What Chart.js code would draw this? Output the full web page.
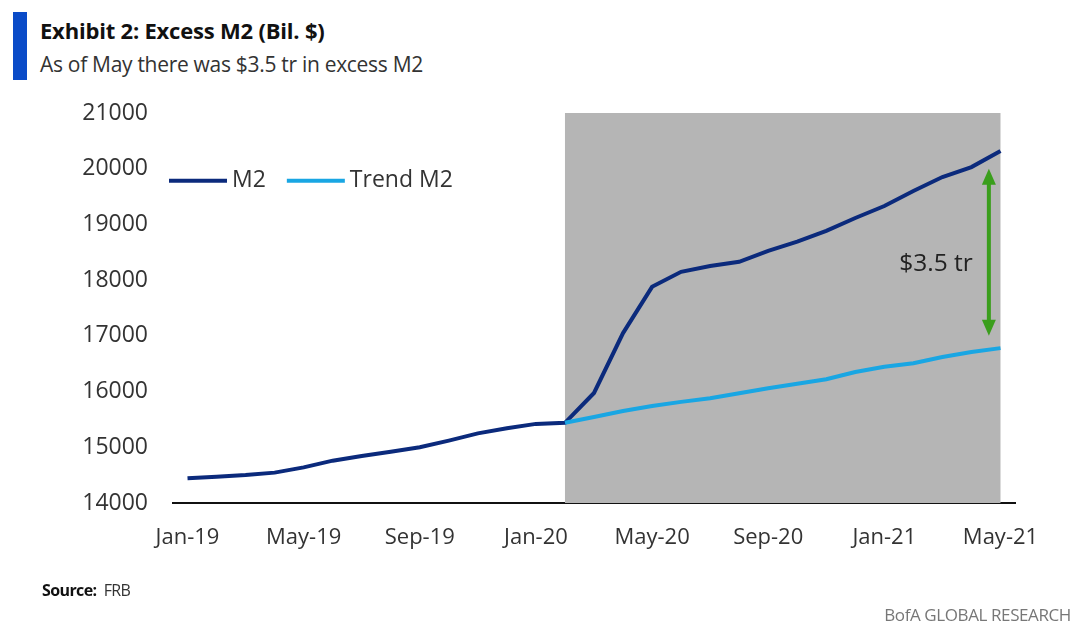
<!DOCTYPE html>
<html>
<head>
<meta charset="utf-8">
<script src="https://cdn.jsdelivr.net/npm/chart.js@4.4.1/dist/chart.umd.min.js"></script>
<style>
  body { margin: 0; background: #fff; width: 1091px; height: 637px; overflow: hidden; font-family: 'Open Sans', sans-serif; }
  .bar { position: absolute; left: 13px; top: 12px; width: 14px; height: 68px; background: #0a4bc8; }
  .title { position: absolute; left: 40px; top: 15px; font-size: 22px; font-weight: 700; color: #111; letter-spacing: -0.2px; }
  .subtitle { position: absolute; left: 40px; top: 50px; font-size: 21px; color: #333; letter-spacing: -0.3px; }
  .source { position: absolute; left: 42px; top: 579px; font-size: 16px; color: #333; letter-spacing: -0.6px; }
  .source b { color: #111; }
  .brand { position: absolute; right: 20px; top: 603px; font-size: 17px; color: #777; letter-spacing: -0.4px; }
  #wrap { position: absolute; left: 0; top: 0; width: 1091px; height: 637px; }
</style>
</head>
<body>
<div class="bar"></div>
<div class="title">Exhibit 2: Excess M2 (Bil. $)</div>
<div class="subtitle">As of May there was $3.5 tr in excess M2</div>
<div id="wrap"><canvas id="chart"></canvas></div>
<div class="source"><b>Source:</b>&nbsp; FRB</div>
<div class="brand">BofA GLOBAL RESEARCH</div>
<script>
// monthly, Jan-19 .. May-21
const months = ['Jan-19','Feb-19','Mar-19','Apr-19','May-19','Jun-19','Jul-19','Aug-19','Sep-19','Oct-19','Nov-19','Dec-19',
  'Jan-20','Feb-20','Mar-20','Apr-20','May-20','Jun-20','Jul-20','Aug-20','Sep-20','Oct-20','Nov-20','Dec-20',
  'Jan-21','Feb-21','Mar-21','Apr-21','May-21'];
const m2 = [14443, 14473, 14503, 14545, 14640, 14760, 14845, 14920, 15000, 15120, 15250, 15340,
  15420, 15440, 15975, 17050, 17880, 18150, 18255, 18330, 18525, 18690, 18885, 19115,
  19330, 19600, 19850, 20030, 20320];
const trendM2 = [null, null, null, null, null, null, null, null, null, null, null, null,
  null, 15440, 15545, 15650, 15740, 15815, 15880, 15970, 16060, 16140, 16220, 16350,
  16445, 16510, 16620, 16710, 16780];
const yTicks = [14000, 15000, 16000, 17000, 18000, 19000, 20000, 21000];
const shadeFrom = 'Feb-20';
const shadeTo = 'May-21';
// excess annotation
const gapTop = 20000;
const gapBottom = 17000;
const gapAt = 27.6; // category position
const gapLabel = '$3.5 tr';

const shadePlugin = {
    id: 'shade',
    beforeDatasetsDraw(chart) {
        const { ctx, chartArea, scales } = chart;
        const x0 = scales.x.getPixelForValue(months.indexOf(shadeFrom));
        const x1 = scales.x.getPixelForValue(months.indexOf(shadeTo));
        const yTop = scales.y.getPixelForValue(yTicks[yTicks.length - 1]);
        ctx.save();
        ctx.fillStyle = '#b5b5b5';
        ctx.fillRect(x0, yTop, x1 - x0, chartArea.bottom - yTop);
        ctx.restore();
    }
};

const annotatePlugin = {
    id: 'annotate',
    afterDatasetsDraw(chart) {
        const { ctx, scales } = chart;
        const x = scales.x.getPixelForValue(gapAt);
        const yA = scales.y.getPixelForValue(gapTop);
        const yB = scales.y.getPixelForValue(gapBottom);
        const head = 16, half = 7;
        ctx.save();
        ctx.strokeStyle = '#3a9e1c';
        ctx.fillStyle = '#3a9e1c';
        ctx.lineWidth = 4;
        ctx.beginPath();
        ctx.moveTo(x, yA + head - 2);
        ctx.lineTo(x, yB - head + 2);
        ctx.stroke();
        ctx.beginPath();
        ctx.moveTo(x, yA);
        ctx.lineTo(x - half, yA + head);
        ctx.lineTo(x + half, yA + head);
        ctx.closePath();
        ctx.fill();
        ctx.beginPath();
        ctx.moveTo(x, yB);
        ctx.lineTo(x - half, yB - head);
        ctx.lineTo(x + half, yB - head);
        ctx.closePath();
        ctx.fill();
        ctx.font = '24.5px "Open Sans"';
        ctx.fillStyle = '#222';
        ctx.textAlign = 'right';
        ctx.textBaseline = 'middle';
        ctx.fillText(gapLabel, x - 16, (yA + yB) / 2 + 12);
        ctx.restore();
    }
};

const legendPlugin = {
    id: 'insideLegend',
    afterDraw(chart) {
        const { ctx, chartArea, scales } = chart;
        const y = scales.y.getPixelForValue(20000) + 12;
        let x = chartArea.left - 4;
        ctx.save();
        ctx.font = '23px "Open Sans"';
        ctx.textBaseline = 'middle';
        ctx.textAlign = 'left';
        chart.data.datasets.forEach(ds => {
            ctx.strokeStyle = ds.borderColor;
            ctx.lineWidth = 4;
            ctx.beginPath();
            ctx.moveTo(x, y);
            ctx.lineTo(x + 58, y);
            ctx.stroke();
            x += 63;
            ctx.fillStyle = '#333';
            ctx.fillText(ds.label, x, y);
            x += ctx.measureText(ds.label).width + 21;
        });
        ctx.restore();
    }
};

new Chart(document.getElementById('chart'), {
    type: 'line',
    data: {
        labels: months,
        datasets: [{
            label: 'M2',
            data: m2,
            borderColor: '#0b2a7c',
            borderWidth: 4,
            pointRadius: 0,
            tension: 0,
            order: 1
        }, {
            label: 'Trend M2',
            data: trendM2,
            borderColor: '#19a6e3',
            borderWidth: 4,
            pointRadius: 0,
            tension: 0,
            order: 0
        }]
    },
    options: {
        responsive: true,
        maintainAspectRatio: false,
        animation: false,
        layout: { padding: { left: 0, top: 113, right: 76, bottom: 74 } },
        plugins: {
            legend: { display: false },
            tooltip: { enabled: false }
        },
        scales: {
            x: {
                offset: true,
                grid: { display: false, drawTicks: false },
                border: { display: true, color: '#111', width: 2 },
                afterFit(scale) { scale.height = 60; },
                ticks: {
                    autoSkip: false,
                    maxRotation: 0,
                    padding: 22,
                    color: '#333',
                    font: { family: 'Open Sans', size: 22 },
                    callback: function(value, index) {
                        return index % 4 === 0 ? months[index] : '';
                    }
                }
            },
            y: {
                min: 14000,
                max: 21000,
                grid: { display: false, drawTicks: false },
                border: { display: false },
                afterFit(scale) { scale.width = 173; },
                afterBuildTicks(scale) { scale.ticks = yTicks.map(v => ({ value: v })); },
                ticks: {
                    padding: 25,
                    color: '#333',
                    font: { family: 'Open Sans', size: 23 },
                    callback: value => String(value)
                }
            }
        }
    },
    plugins: [shadePlugin, annotatePlugin, legendPlugin]
});
</script>
</body>
</html>
